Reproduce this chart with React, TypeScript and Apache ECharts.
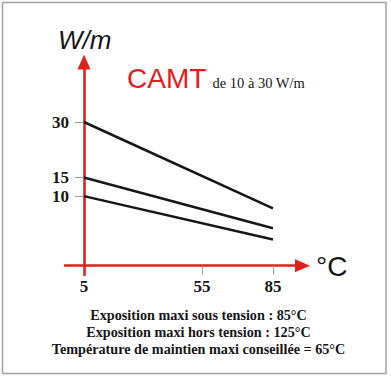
import React, { useEffect, useRef } from "react";
import * as echarts from "echarts";

const temperatures = [5, 85];
const seriesNames = ["30 W/m", "15 W/m", "10 W/m"];
const seriesValues = [
  [30, 6.7],
  [15, 1.3],
  [10, -1.7],
];
const yTickValues = [10, 15, 30];
const xLabelValues = [5, 55, 85];
const xTickValues = [55, 85];
const footnotes = [
  "Exposition maxi sous tension : 85°C",
  "Exposition maxi hors tension : 125°C",
  "Température de maintien maxi conseillée = 65°C",
];

const RED = "#e1201c";
const INK = "#161616";
const GRAY = "#9a9a9a";
const SERIF = "'Liberation Serif', 'Times New Roman', serif";
const SANS = "'Liberation Sans', Arial, sans-serif";

export default function App() {
  const ref = useRef<HTMLDivElement>(null);
  useEffect(() => {
    document.body.style.margin = "0";
    if (!ref.current) return;
    const chart = echarts.init(ref.current, null, { renderer: "svg" });
    const option: any = {
      animation: false,
      backgroundColor: "#ffffff",
      grid: {
        left: 65,
        right: 88.5,
        top: 62,
        bottom: 101,
        containLabel: false,
        outerBoundsMode: "none",
      },
      xAxis: {
        type: "value",
        min: -3,
        max: 97.5,
        offset: -9.3,
        splitLine: { show: false },
        axisLine: {
          onZero: false,
          lineStyle: { color: RED, width: 2.6 },
          symbol: ["none", "triangle"],
          symbolSize: [13, 15],
        },
        axisTick: {
          customValues: xTickValues,
          length: 9,
          lineStyle: { color: GRAY, width: 1 },
        },
        axisLabel: {
          customValues: xLabelValues,
          margin: 12,
          fontFamily: SERIF,
          fontWeight: "bold",
          fontSize: 17,
          color: INK,
        },
      },
      yAxis: {
        type: "value",
        min: -11.3,
        max: 46.2,
        offset: -19,
        position: "left",
        splitLine: { show: false },
        axisLine: {
          show: true,
          onZero: false,
          lineStyle: { color: RED, width: 2.6 },
          symbol: ["none", "triangle"],
          symbolSize: [13, 15],
        },
        axisTick: {
          show: true,
          customValues: yTickValues,
          length: 9,
          lineStyle: { color: GRAY, width: 1 },
        },
        axisLabel: {
          customValues: yTickValues,
          margin: 15,
          fontFamily: SERIF,
          fontWeight: "bold",
          fontSize: 17,
          color: INK,
        },
      },
      series: seriesValues.map((vals, i) => ({
        name: seriesNames[i],
        type: "line",
        data: vals.map((v, j) => [temperatures[j], v]),
        symbol: "none",
        silent: true,
        lineStyle: { color: INK, width: 2.5 },
        z: 3,
      })),
      graphic: [
        {
          type: "rect",
          shape: { x: 2.5, y: 2.5, width: 383.5, height: 371 },
          style: { fill: "none", stroke: "#a3a3a3", lineWidth: 1.5 },
          silent: true,
        },
        {
          type: "text",
          left: 58,
          top: 27,
          style: {
            text: "W/m",
            font: `italic 300 26px ${SANS}`,
            fill: INK,
          },
        },
        {
          type: "text",
          left: 127,
          top: 64,
          style: {
            text: "CAMT",
            font: `300 28px ${SANS}`,
            fill: RED,
          },
        },
        {
          type: "text",
          left: 212.5,
          top: 75,
          style: {
            text: "de 10 à 30 W/m",
            font: `14.5px ${SERIF}`,
            fill: INK,
          },
        },
        {
          type: "text",
          left: 316,
          top: 252,
          style: {
            text: "°C",
            font: `300 28px ${SANS}`,
            fill: INK,
          },
        },
        ...footnotes.map((t, i) => ({
          type: "text",
          x: 198.5,
          y: 322 + i * 17.2,
          style: {
            text: t,
            font: `bold 14.2px ${SERIF}`,
            fill: INK,
            align: "center",
            verticalAlign: "bottom",
          },
        })),
      ],
    };
    chart.setOption(option);
    return () => chart.dispose();
  }, []);
  return <div ref={ref} style={{ width: 391, height: 376 }} />;
}
